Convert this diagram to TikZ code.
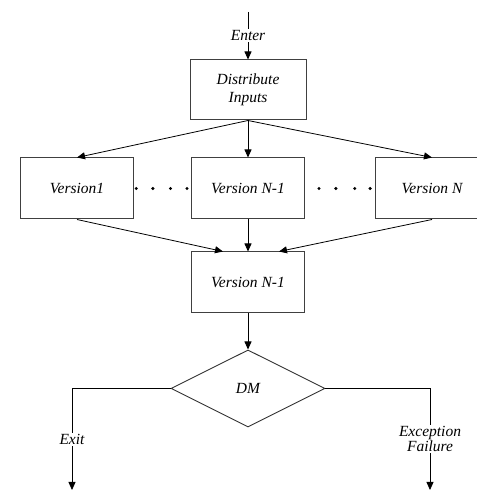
\documentclass[tikz,border=0pt]{standalone}
\usepackage{fontspec}
\setmainfont{Liberation Serif}
\usepackage{tikz}
\usetikzlibrary{arrows.meta,positioning,calc,shapes.geometric}

\begin{document}
\begin{tikzpicture}[
        x=1pt, y=1pt,
        font=\fontsize{15.5}{17.5}\selectfont\itshape,
        box/.style={rectangle, draw=black!75, line width=1pt, fill=white,
                    minimum width=113pt, minimum height=61pt, align=center,
                    inner sep=2pt},
        dec/.style={diamond, draw=black!80, line width=0.9pt, aspect=2,
                    minimum width=154pt, minimum height=77pt, inner sep=0pt},
        arr/.style={-{Triangle[length=8pt,width=7pt]}, line width=0.8pt},
        lbl/.style={fill=white, inner sep=1.5pt, align=center},
        dot/.style={fill=black}
    ]
        \useasboundingbox (0,0) rectangle (477,491);

        %--- Boxes ---
        \coordinate (enter) at (248,479);
        \node[box, minimum width=116pt, minimum height=60pt] (dist) at (248,401) {Distribute\\Inputs};
        \node[box, below=37pt of dist] (vmid) {Version N-1};
        \node[box, left=57pt of vmid] (vone) {Version1};
        \node[box, right=70pt of vmid] (vlast) {Version N};
        \node[box, below=32pt of vmid] (vout) {Version N-1};
        \node[dec, below=36pt of vout] (dm) {DM};

        %--- Loose ends at the bottom ---
        \coordinate (exitend) at (72,1);
        \coordinate (failend) at (430,1);

        %--- Arrows: fan out ---
        \draw[arr] (enter) -- node[lbl] {Enter} (dist);
        \draw[arr] (dist.south) -- (vone.north);
        \draw[arr] (dist.south) -- (vmid.north);
        \draw[arr] (dist.south) -- (vlast.north);

        %--- Arrows: gather ---
        \draw[arr] (vone.south) -- ([xshift=-25pt]vout.north);
        \draw[arr] (vmid.south) -- (vout.north);
        \draw[arr] (vlast.south) -- ([xshift=31pt]vout.north);
        \draw[arr] (vout.south) -- (dm.north);

        %--- Decision outputs ---
        \draw[arr] (dm.west) -| node[lbl, pos=0.75] {Exit} (exitend);
        \draw[arr] (dm.east) -| node[lbl, pos=0.75,
            font=\fontsize{15.5}{12.5}\selectfont\itshape] {Exception\\Failure} (failend);

        %--- Dots between the versions ---
        \foreach \p in {0.04,0.33,0.64,0.93}
            \fill[dot] ($(vone.east)!\p!(vmid.west)$) circle (1.7pt);
        \foreach \p in {0.2,0.44,0.71,0.93}
            \fill[dot] ($(vmid.east)!\p!(vlast.west)$) circle (1.7pt);
    \end{tikzpicture}
\end{document}
